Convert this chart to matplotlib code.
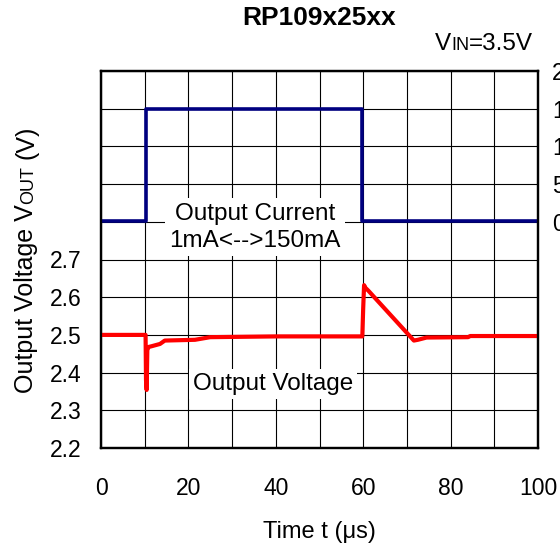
import numpy as np
import matplotlib
matplotlib.use("Agg")
import matplotlib.pyplot as plt

plt.rcParams['font.family'] = ['Liberation Sans', 'DejaVu Sans']

# data
time_current = [0, 10.4, 10.4, 59.7, 59.7, 100]
current_ma = [1, 1, 150, 150, 1, 1]

time_voltage = [0, 10.2, 10.3, 10.45, 10.6, 10.9, 11.6, 13.5, 14.6, 21.5, 25, 40,
                59.8, 60.0, 60.2, 60.5, 61.2, 71.6, 72.5, 74.5, 84, 84.5, 100]
vout = [2.5, 2.5, 2.38, 2.354, 2.46, 2.468, 2.470, 2.476, 2.485, 2.487, 2.494, 2.496,
        2.496, 2.571, 2.632, 2.625, 2.617, 2.485, 2.487, 2.493, 2.494, 2.497, 2.497]

x_ticks = np.arange(0, 101, 10)
x_labels = [str(v) if v % 20 == 0 else "" for v in x_ticks]
v_ticks = np.round(np.arange(2.2, 3.21, 0.1), 1)
v_labels = ["%.1f" % v if v <= 2.7 else "" for v in v_ticks]
i_ticks = [0, 50, 100, 150, 200]

W, H = 560, 548
fig = plt.figure(figsize=(W / 100, H / 100), dpi=100)
ax = fig.add_axes([101 / W, 1 - 448 / H, (538 - 101) / W, (448 - 71) / H])

ax.plot(time_voltage, vout, color='#ff0000', lw=3, solid_joinstyle='round', zorder=4)
ax.set_xlim(0, 100)
ax.set_ylim(2.2, 3.2)
ax.set_xticks(x_ticks)
ax.set_xticklabels(x_labels)
ax.set_yticks(v_ticks)
ax.set_yticklabels(v_labels)
ax.tick_params(axis='x', length=0, pad=21, labelsize=16.5)
ax.tick_params(axis='y', length=0, pad=14, labelsize=16.5)
ax.grid(True, color='black', lw=0.8)
for s in ax.spines.values():
    s.set_linewidth(1.6)
ax.set_xlabel("Time t (μs)", fontsize=17, labelpad=15)

box = dict(facecolor='white', edgecolor='none', pad=3)
ax.text(35.2, 2.786, "Output Current\n1mA<-->150mA", ha='center', va='center',
        fontsize=17.5, linespacing=1.3, bbox=box, zorder=3)
ax.text(39.4, 2.370, "Output Voltage", ha='center', va='center',
        fontsize=17.5, bbox=box, zorder=3)

ax2 = ax.twinx()
ax2.plot(time_current, current_ma, color='#000080', lw=2.6)
ax2.set_ylim(-300, 200)
ax2.set_yticks(i_ticks)
ax2.tick_params(axis='y', length=0, pad=10, labelsize=16.5)
for s in ax2.spines.values():
    s.set_linewidth(1.6)

fig.text(319.5 / W, 1 - 18 / H, "RP109x25xx", ha='center', va='center',
         fontsize=19, fontweight='bold')

renderer = fig.canvas.get_renderer()

# V_IN = 3.5V with small-caps style subscript
x0, y0 = 435.0, H - 50.0
for txt, size in [("V", 17.5), ("IN", 13), ("=3.5V", 17.5)]:
    t = fig.text(x0 / W, y0 / H, txt, ha='left', va='baseline', fontsize=size)
    x0 += t.get_window_extent(renderer).width

# y label, rotated, built from pieces
x0, y0 = 33.0, H - 393.0
for txt, size, gap in [("Output Voltage V", 18, 0), ("OUT", 13, 0), ("(V)", 18, 7)]:
    y0 += gap
    t = fig.text(x0 / W, y0 / H, txt, ha='left', va='baseline', fontsize=size,
                 rotation=90, rotation_mode='anchor')
    y0 += t.get_window_extent(renderer).height

fig.savefig("out.png", dpi=100)
